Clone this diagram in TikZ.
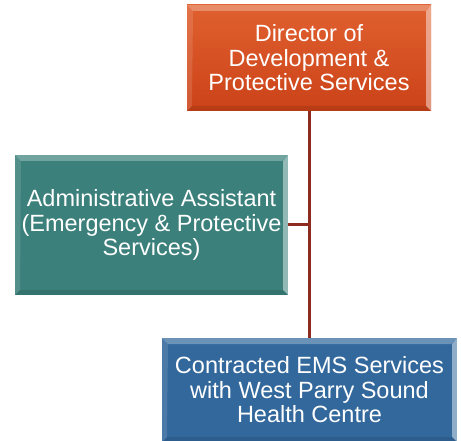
\documentclass[tikz,border=0pt]{standalone}
\usepackage{fontspec}
\setmainfont{Liberation Sans}
\definecolor{dirorange}{HTML}{D6461A}
\definecolor{dirtop}{HTML}{E0602F}
\definecolor{asstteal}{HTML}{3B807B}
\definecolor{emsblue}{HTML}{33689C}
\definecolor{linkred}{HTML}{8E2B20}
\tikzset{
  orgbox/.style={rectangle, inner sep=0pt, text=white, align=center,
    font=\fontsize{23.5}{24.5}\selectfont,
    path picture={
      \fill[white,opacity=0.28] (path picture bounding box.north west) -- (path picture bounding box.north east)
        -- ([xshift=-6pt,yshift=-6pt]path picture bounding box.north east) -- ([xshift=6pt,yshift=-6pt]path picture bounding box.north west) -- cycle;
      \fill[white,opacity=0.45] (path picture bounding box.north east) -- (path picture bounding box.south east)
        -- ([xshift=-5pt,yshift=5pt]path picture bounding box.south east) -- ([xshift=-5pt,yshift=-6pt]path picture bounding box.north east) -- cycle;
      \fill[white,opacity=0.12] (path picture bounding box.north west) -- (path picture bounding box.south west)
        -- ([xshift=5pt,yshift=5pt]path picture bounding box.south west) -- ([xshift=6pt,yshift=-6pt]path picture bounding box.north west) -- cycle;
      \fill[black,opacity=0.10] (path picture bounding box.south west) -- (path picture bounding box.south east)
        -- ([xshift=-5pt,yshift=5pt]path picture bounding box.south east) -- ([xshift=5pt,yshift=5pt]path picture bounding box.south west) -- cycle;
    }},
  link/.style={draw=linkred, line width=3pt}
}
\begin{document}
\begin{tikzpicture}[x=1pt,y=-1pt]
\useasboundingbox (0,0) rectangle (461,441);
\node[orgbox, top color=dirtop, bottom color=dirorange!95!black, minimum width=244pt, minimum height=106pt] (dir) at (309,58)
  {Director of\\Development \&\\Protective Services};
\node[orgbox, fill=asstteal, minimum width=273pt, minimum height=140pt] (asst) at (151.5,225)
  {Administrative Assistant\\(Emergency \& Protective\\Services)};
\node[orgbox, fill=emsblue, minimum width=295pt, minimum height=104pt] (ems) at (309.5,390)
  {Contracted EMS Services\\with West Parry Sound\\Health Centre};
\draw[link] (dir.south) -- (dir.south |- ems.north);
\draw[link] (asst.east) -- (asst.east -| dir.south);
\end{tikzpicture}
\end{document}
